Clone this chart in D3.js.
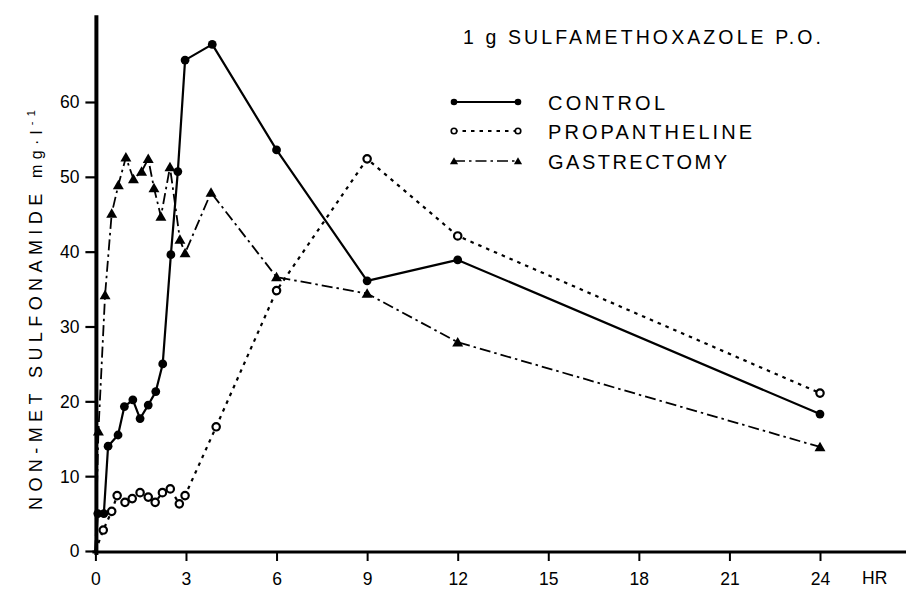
<!DOCTYPE html>
<html>
<head>
<meta charset="utf-8">
<script src="https://cdn.jsdelivr.net/npm/d3@7"></script>
<style>
  html, body { margin: 0; padding: 0; background: #fff; }
  svg { display: block; }
  text { font-family: "Liberation Sans", Arial, Helvetica, sans-serif; fill: #000; }
</style>
</head>
<body>
<svg id="chart" width="907" height="595"></svg>
<script>
// Plasma non-metabolised sulfonamide after 1 g sulfamethoxazole by mouth
const hoursControl = [0, 0.08, 0.28, 0.42, 0.75, 0.96, 1.24, 1.48, 1.75, 2.0, 2.23, 2.5, 2.73, 2.97, 3.87, 6, 9, 12, 24];
const control      = [0, 5.0, 5.0, 14.0, 15.5, 19.3, 20.2, 17.7, 19.5, 21.3, 25.0, 39.6, 50.7, 65.6, 67.7, 53.6, 36.1, 38.9, 18.3];

const hoursPropantheline = [0, 0.26, 0.54, 0.72, 0.98, 1.22, 1.48, 1.75, 1.98, 2.22, 2.48, 2.78, 2.97, 4.0, 6, 9, 12, 24];
const propantheline      = [0, 2.8, 5.3, 7.4, 6.5, 7.0, 7.8, 7.2, 6.5, 7.8, 8.3, 6.3, 7.4, 16.6, 34.8, 52.4, 42.1, 21.1];

const hoursGastrectomy = [0, 0.1, 0.32, 0.54, 0.76, 1.01, 1.26, 1.53, 1.75, 1.94, 2.17, 2.47, 2.8, 2.97, 3.83, 6, 9, 12, 24];
const gastrectomy      = [0, 16.0, 34.2, 45.1, 48.9, 52.6, 49.7, 50.7, 52.4, 48.5, 44.7, 51.3, 41.6, 39.8, 47.9, 36.6, 34.4, 27.9, 13.9];

const xTicks = [0, 3, 6, 9, 12, 15, 18, 21, 24];
const yTicks = [0, 10, 20, 30, 40, 50, 60];
const seriesNames = ["CONTROL", "PROPANTHELINE", "GASTRECTOMY"];

const svg = d3.select("#chart");
const x = d3.scaleLinear().domain([0, 24]).range([95.4, 820]);
const y = d3.scaleLinear().domain([0, 60]).range([551, 102]);

// axes
const yAxis = d3.axisLeft(y).tickValues(yTicks).tickSize(11).tickPadding(6).tickFormat(d3.format("d"));
const gy = svg.append("g").attr("transform", `translate(${x(0) + 1},0)`).call(yAxis);
gy.select(".domain").remove();
gy.selectAll(".tick line").attr("stroke", "#000").attr("stroke-width", 2.2);
gy.selectAll(".tick text").style("font-size", "17.5px").attr("dy", "0.34em");

const xAxis = d3.axisBottom(x).tickValues(xTicks).tickSize(9).tickPadding(8).tickFormat(d3.format("d"));
const gx = svg.append("g").attr("transform", `translate(0,${y(0) + 1})`).call(xAxis);
gx.select(".domain").remove();
gx.selectAll(".tick line").attr("stroke", "#000").attr("stroke-width", 2);
gx.selectAll(".tick text").style("font-size", "17.5px").attr("dy", "0.9em");

svg.append("line")
  .attr("x1", x(0) + 1).attr("x2", x(0) + 1)
  .attr("y1", y(71.6)).attr("y2", y(0) + 4)
  .attr("stroke", "#000").attr("stroke-width", 4);
svg.append("line")
  .attr("x1", x(0) - 3).attr("x2", 906)
  .attr("y1", y(0) + 1).attr("y2", y(0) + 1)
  .attr("stroke", "#000").attr("stroke-width", 3.2);

svg.append("text").attr("x", 862).attr("y", 584).style("font-size", "17.5px").text("HR");

// y-axis title
const yt = svg.append("text")
  .attr("transform", `translate(42,${(512 + 108) / 2}) rotate(-90)`)
  .attr("text-anchor", "middle")
  .attr("textLength", 400).attr("lengthAdjust", "spacing")
  .style("font-size", "18px");
yt.append("tspan").text("NON-MET  SULFONAMIDE ");
yt.append("tspan").style("font-size", "16px").text("mg·l");
yt.append("tspan").style("font-size", "11px").attr("dy", "-7").text("-1");

// title
svg.append("text").attr("x", 463).attr("y", 44)
  .attr("textLength", 358).attr("lengthAdjust", "spacing")
  .style("font-size", "19.5px")
  .text("1 g  SULFAMETHOXAZOLE P.O.");

// series
const styles = [
  { hours: hoursControl, vals: control, dash: null, width: 2.2, marker: "dot" },
  { hours: hoursPropantheline, vals: propantheline, dash: "3.5,5", width: 2.2, marker: "ring" },
  { hours: hoursGastrectomy, vals: gastrectomy, dash: "11,4,2.5,4", width: 1.8, marker: "tri" }
];

const line = d3.line().x(d => x(d[0])).y(d => y(d[1]));
const tri = d3.symbol().type(d3.symbolTriangle);

function drawMarker(g, px, py, kind, scale) {
  if (kind === "dot") {
    g.append("circle").attr("cx", px).attr("cy", py).attr("r", 4.4 * scale).attr("fill", "#000");
  } else if (kind === "ring") {
    g.append("circle").attr("cx", px).attr("cy", py).attr("r", 3.7 * scale)
      .attr("fill", "#fff").attr("stroke", "#000").attr("stroke-width", 2.2 * scale);
  } else {
    g.append("path").attr("d", tri.size(52 * scale * scale)())
      .attr("transform", `translate(${px},${py + 1})`).attr("fill", "#000");
  }
}

styles.forEach(s => {
  const pts = s.hours.map((h, i) => [h, s.vals[i]]);
  svg.append("path").datum(pts).attr("d", line)
    .attr("fill", "none").attr("stroke", "#000")
    .attr("stroke-width", s.width)
    .attr("stroke-dasharray", s.dash)
    .attr("stroke-linejoin", "round");
  const g = svg.append("g");
  pts.slice(1).forEach(p => drawMarker(g, x(p[0]), y(p[1]), s.marker, 1));
});

// legend
const legendRows = [102, 131, 161];
const textLengths = [117, 204, 179];
styles.forEach((s, i) => {
  const ly = legendRows[i];
  svg.append("line").attr("x1", 454).attr("x2", 518).attr("y1", ly).attr("y2", ly)
    .attr("stroke", "#000").attr("stroke-width", s.width * 0.9)
    .attr("stroke-dasharray", s.dash);
  drawMarker(svg, 454, ly, s.marker, 0.75);
  drawMarker(svg, 518, ly, s.marker, 0.75);
  svg.append("text").attr("x", 548).attr("y", ly + 7.5)
    .attr("textLength", textLengths[i]).attr("lengthAdjust", "spacing")
    .style("font-size", "20px")
    .text(seriesNames[i]);
});
</script>
</body>
</html>
